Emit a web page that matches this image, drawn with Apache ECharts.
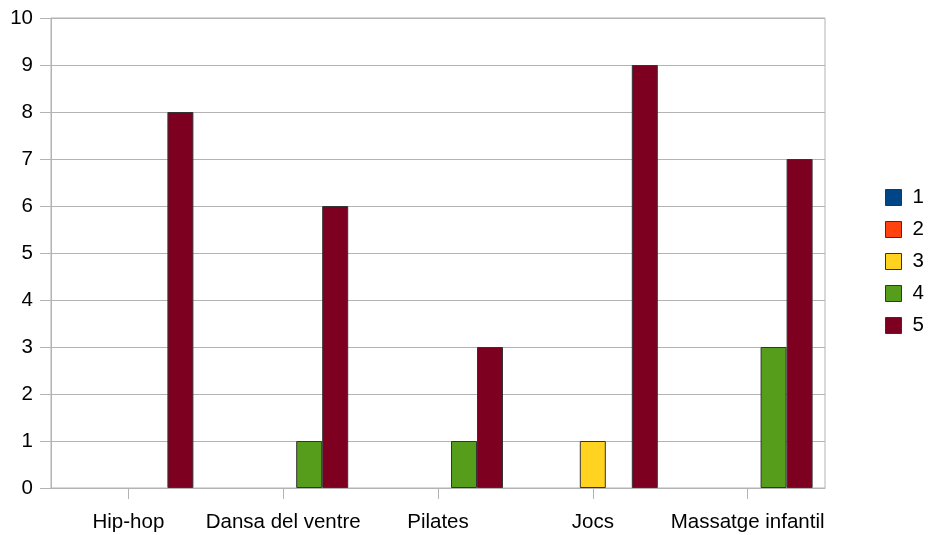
<!DOCTYPE html>
<html>
<head>
<meta charset="utf-8">
<script src="https://cdn.jsdelivr.net/npm/echarts@6/dist/echarts.min.js"></script>
<style>html,body{margin:0;padding:0;background:#fff;}#c{width:928px;height:535px;}</style>
</head>
<body>
<div id="c"></div>
<script>
const categories = ['Hip-hop', 'Dansa del ventre', 'Pilates', 'Jocs', 'Massatge infantil'];
const seriesNames = ['1', '2', '3', '4', '5'];
const s1 = [0, 0, 0, 0, 0];
const s2 = [0, 0, 0, 0, 0];
const s3 = [0, 0, 0, 1, 0];
const s4 = [0, 1, 1, 0, 3];
const s5 = [8, 6, 3, 9, 7];
const yTicks = [0, 1, 2, 3, 4, 5, 6, 7, 8, 9, 10];
const colors = ['#004586', '#ff420e', '#ffd320', '#579d1c', '#7e0021'];

const allSeries = [s1, s2, s3, s4, s5];
const FS = 20.5;
const chart = echarts.init(document.getElementById('c'));
chart.setOption({
  animation: false,
  textStyle: { fontFamily: 'Liberation Sans', fontSize: FS, color: '#000' },
  grid: { left: 51, right: 103, top: 18, bottom: 47, containLabel: false,
          show: true, borderColor: '#b3b3b3', borderWidth: 1 },
  legend: {
    orient: 'vertical', left: 880, top: 182, padding: 5,
    itemWidth: 16, itemHeight: 16, itemGap: 11, icon: 'rect',
    textStyle: { fontFamily: 'Liberation Sans', fontSize: FS, color: '#000', lineHeight: 16, padding: [4, 0, 0, 6] },
    data: seriesNames.map(n => ({ name: n, itemStyle: { borderColor: '#333', borderWidth: 1 } }))
  },
  xAxis: {
    type: 'category', data: categories,
    axisLine: { lineStyle: { color: '#b3b3b3' } },
    axisTick: { show: true, alignWithLabel: true, length: 11, lineStyle: { color: '#b3b3b3' } },
    axisLabel: { color: '#000', fontSize: FS, fontFamily: 'Liberation Sans', margin: 24, interval: 0 }
  },
  yAxis: {
    type: 'value', min: yTicks[0], max: yTicks[yTicks.length - 1], interval: 1,
    axisLine: { show: true, lineStyle: { color: '#b3b3b3' } },
    axisTick: { show: true, length: 11, lineStyle: { color: '#b3b3b3' } },
    splitLine: { lineStyle: { color: '#b3b3b3' } },
    axisLabel: { color: '#000', fontSize: FS, fontFamily: 'Liberation Sans', margin: 18 }
  },
  series: allSeries.map((d, i) => ({
    name: seriesNames[i], type: 'bar', data: d.map(v => v === 0 ? null : v),
    barWidth: 26, barGap: '0%',
    itemStyle: { color: colors[i], borderColor: '#333', borderWidth: 1 }
  }))
});
</script>
</body>
</html>
